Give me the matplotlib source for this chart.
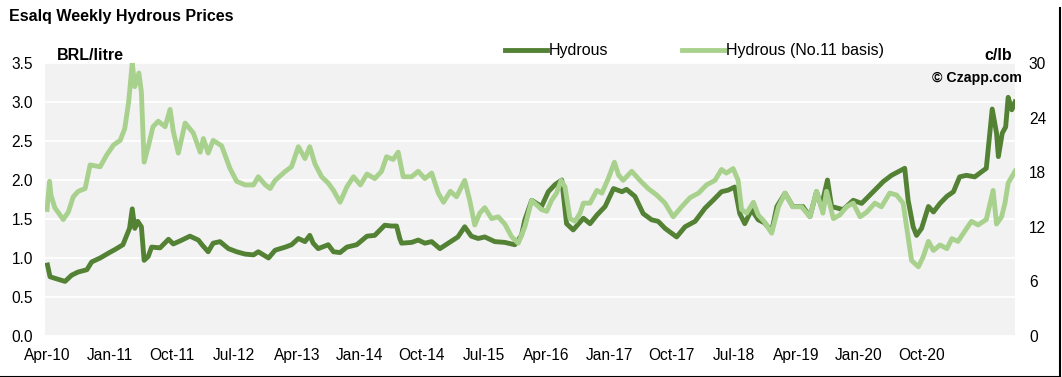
import matplotlib.pyplot as plt
import matplotlib.dates as mdates
from matplotlib.lines import Line2D
import pandas as pd

DARK = '#548235'; LIGHT = '#A9D18E'; BG = '#F2F2F2'; TXT = '#000000'
FONT = 'Liberation Sans'

# Esalq hydrous, BRL/litre (left axis)
hydrous_dates = [
    '2010-04-03', '2010-04-14', '2010-05-05', '2010-06-19', '2010-07-18', '2010-08-15',
    '2010-09-23', '2010-10-14', '2010-11-20', '2010-12-25', '2011-01-25', '2011-02-28',
    '2011-03-29', '2011-04-10', '2011-04-21', '2011-05-04', '2011-05-20', '2011-06-01',
    '2011-06-19', '2011-07-04', '2011-08-10', '2011-09-16', '2011-10-07', '2011-11-14',
    '2011-12-19', '2012-01-25', '2012-02-10', '2012-03-08', '2012-03-30', '2012-04-29',
    '2012-06-05', '2012-07-11', '2012-08-17', '2012-09-23', '2012-10-14', '2012-11-28',
    '2012-12-27', '2013-02-10', '2013-03-09', '2013-04-08', '2013-05-07', '2013-05-28',
    '2013-06-12', '2013-07-04', '2013-08-17', '2013-09-09', '2013-10-08', '2013-11-07',
    '2013-12-20', '2014-02-03', '2014-03-09', '2014-04-22', '2014-05-21', '2014-06-13',
    '2014-06-27', '2014-07-05', '2014-08-18', '2014-09-16', '2014-10-15', '2014-11-14',
    '2014-12-20', '2015-01-26', '2015-03-09', '2015-04-08', '2015-05-07', '2015-06-06',
    '2015-07-05', '2015-08-18', '2015-10-01', '2015-11-14', '2015-12-13', '2015-12-28',
    '2016-01-27', '2016-03-10', '2016-04-09', '2016-05-08', '2016-06-07', '2016-06-28',
    '2016-07-27', '2016-09-10', '2016-10-09', '2016-11-08', '2016-12-14', '2017-01-20',
    '2017-02-26', '2017-03-18', '2017-04-24', '2017-05-30', '2017-07-06', '2017-08-04',
    '2017-09-03', '2017-10-24', '2017-11-30', '2018-01-13', '2018-02-26', '2018-04-02',
    '2018-05-09', '2018-06-07', '2018-07-06', '2018-07-28', '2018-08-19', '2018-09-18',
    '2018-10-17', '2018-11-14', '2018-12-15', '2019-01-07', '2019-02-12', '2019-03-18',
    '2019-05-01', '2019-06-01', '2019-06-30', '2019-07-21', '2019-08-17', '2019-09-04',
    '2019-10-25', '2019-12-08', '2020-01-14', '2020-02-27', '2020-04-18', '2020-05-24',
    '2020-07-21', '2020-08-05', '2020-08-27', '2020-09-11', '2020-10-03', '2020-11-02',
    '2020-11-24', '2020-12-23', '2021-01-22', '2021-02-20', '2021-03-19', '2021-04-18',
    '2021-05-24', '2021-07-14', '2021-08-09', '2021-08-28', '2021-09-05', '2021-09-22',
    '2021-10-07', '2021-10-18', '2021-11-03', '2021-11-17']
hydrous_brl = [
    0.91, 0.76, 0.74, 0.70, 0.78, 0.82,
    0.85, 0.95, 1.00, 1.06, 1.11, 1.17,
    1.38, 1.63, 1.38, 1.47, 1.40, 0.97,
    1.02, 1.14, 1.13, 1.24, 1.18, 1.23,
    1.28, 1.23, 1.17, 1.08, 1.19, 1.21,
    1.12, 1.08, 1.05, 1.04, 1.08, 1.00,
    1.10, 1.14, 1.17, 1.25, 1.21, 1.29,
    1.19, 1.12, 1.17, 1.08, 1.07, 1.14,
    1.17, 1.28, 1.29, 1.42, 1.41, 1.41,
    1.25, 1.19, 1.20, 1.23, 1.19, 1.21,
    1.12, 1.19, 1.27, 1.40, 1.28, 1.25,
    1.27, 1.21, 1.20, 1.17, 1.29, 1.49,
    1.74, 1.66, 1.85, 1.94, 2.00, 1.44,
    1.36, 1.51, 1.44, 1.55, 1.66, 1.89,
    1.85, 1.88, 1.79, 1.57, 1.49, 1.47,
    1.38, 1.27, 1.40, 1.47, 1.64, 1.74,
    1.85, 1.87, 1.91, 1.57, 1.44, 1.62,
    1.49, 1.45, 1.34, 1.66, 1.83, 1.66,
    1.66, 1.53, 1.85, 1.66, 2.00, 1.66,
    1.62, 1.74, 1.70, 1.83, 1.98, 2.06,
    2.15, 1.74, 1.40, 1.29, 1.38, 1.66,
    1.59, 1.70, 1.79, 1.85, 2.04, 2.06,
    2.04, 2.15, 2.91, 2.60, 2.30, 2.60,
    2.68, 3.06, 2.90, 3.00]

# hydrous on No.11 basis, c/lb (right axis)
n11_dates = [
    '2010-04-01', '2010-04-12', '2010-04-18', '2010-05-05', '2010-06-11', '2010-07-03',
    '2010-07-25', '2010-08-16', '2010-09-15', '2010-10-07', '2010-11-20', '2010-12-19',
    '2011-01-18', '2011-02-16', '2011-03-08', '2011-03-25', '2011-04-10', '2011-04-21',
    '2011-05-09', '2011-05-20', '2011-06-01', '2011-06-19', '2011-07-10', '2011-08-02',
    '2011-09-01', '2011-09-23', '2011-10-07', '2011-10-29', '2011-11-28', '2012-01-03',
    '2012-02-02', '2012-02-16', '2012-03-08', '2012-03-30', '2012-05-06', '2012-06-12',
    '2012-07-11', '2012-08-17', '2012-09-23', '2012-10-14', '2012-11-14', '2012-12-05',
    '2012-12-27', '2013-02-10', '2013-03-09', '2013-04-08', '2013-05-07', '2013-05-28',
    '2013-06-20', '2013-07-19', '2013-08-17', '2013-09-09', '2013-10-08', '2013-11-07',
    '2013-12-06', '2014-01-05', '2014-02-03', '2014-03-09', '2014-04-08', '2014-04-30',
    '2014-05-29', '2014-06-20', '2014-07-12', '2014-08-18', '2014-09-16', '2014-10-15',
    '2014-11-14', '2014-12-13', '2015-01-05', '2015-02-04', '2015-03-03', '2015-04-08',
    '2015-04-30', '2015-05-22', '2015-06-13', '2015-07-05', '2015-08-04', '2015-09-02',
    '2015-10-01', '2015-10-31', '2015-11-29', '2015-12-28', '2016-01-27', '2016-03-10',
    '2016-04-02', '2016-04-23', '2016-05-15', '2016-06-04', '2016-06-21', '2016-07-13',
    '2016-08-04', '2016-08-26', '2016-09-10', '2016-10-09', '2016-11-08', '2016-11-30',
    '2016-12-28', '2017-01-24', '2017-02-11', '2017-03-03', '2017-04-10', '2017-05-16',
    '2017-06-21', '2017-07-28', '2017-09-03', '2017-10-09', '2017-11-15', '2017-12-22',
    '2018-01-28', '2018-03-04', '2018-04-10', '2018-05-09', '2018-05-30', '2018-06-29',
    '2018-07-21', '2018-08-05', '2018-08-27', '2018-09-26', '2018-10-17', '2018-11-12',
    '2018-12-15', '2019-01-14', '2019-02-12', '2019-03-18', '2019-04-25', '2019-06-01',
    '2019-06-30', '2019-07-28', '2019-08-13', '2019-09-12', '2019-10-10', '2019-11-09',
    '2019-12-08', '2020-01-07', '2020-02-05', '2020-03-12', '2020-04-10', '2020-05-16',
    '2020-06-15', '2020-07-14', '2020-08-05', '2020-08-20', '2020-09-19', '2020-10-10',
    '2020-11-02', '2020-11-24', '2020-12-23', '2021-01-22', '2021-02-13', '2021-03-12',
    '2021-04-10', '2021-05-10', '2021-06-08', '2021-07-14', '2021-08-13', '2021-08-28',
    '2021-09-19', '2021-10-04', '2021-10-18', '2021-11-03', '2021-11-17']
n11_clb = [
    13.9, 17.0, 15.5, 14.1, 12.8, 13.6,
    15.3, 15.9, 16.2, 18.8, 18.6, 19.9,
    21.0, 21.5, 22.8, 25.7, 30.0, 27.4,
    28.9, 26.8, 19.1, 20.8, 23.0, 23.6,
    23.0, 24.9, 22.5, 20.1, 23.4, 22.3,
    20.2, 21.7, 20.1, 21.5, 20.9, 18.4,
    17.0, 16.6, 16.6, 17.5, 16.6, 16.2,
    17.1, 18.1, 18.6, 20.8, 19.5, 20.8,
    18.9, 17.5, 16.8, 16.0, 14.7, 16.4,
    17.5, 16.6, 17.8, 17.3, 18.1, 19.7,
    19.4, 20.2, 17.5, 17.5, 18.1, 17.3,
    17.9, 15.7, 14.7, 15.9, 15.3, 17.1,
    14.9, 12.2, 13.5, 14.1, 12.9, 13.1,
    12.3, 10.9, 10.2, 12.0, 14.9, 13.9,
    13.7, 14.9, 15.7, 17.1, 16.4, 12.9,
    12.6, 13.5, 14.6, 14.6, 16.0, 15.7,
    17.3, 19.1, 17.7, 17.1, 18.1, 17.1,
    16.2, 15.5, 14.6, 13.1, 14.2, 15.2,
    15.7, 16.6, 17.1, 18.3, 17.9, 18.4,
    17.1, 13.9, 13.5, 14.7, 13.3, 12.6,
    11.3, 14.2, 15.7, 14.2, 14.2, 13.1,
    15.9, 13.5, 15.9, 12.9, 13.3, 14.2,
    14.6, 13.1, 13.6, 14.6, 14.2, 15.7,
    15.5, 14.6, 10.9, 8.3, 7.6, 8.7,
    10.4, 9.4, 10.0, 9.6, 10.7, 10.4,
    11.5, 12.6, 12.2, 12.8, 16.0, 12.3,
    13.1, 14.6, 16.8, 17.5, 18.1]

left_ticks = [0.0, 0.5, 1.0, 1.5, 2.0, 2.5, 3.0, 3.5]
right_ticks = [0, 6, 12, 18, 24, 30]
x_ticks = pd.date_range('2010-04-01', '2020-10-01', freq='9MS')


def hydrous_chart():
    W, H = 1062, 377
    fig = plt.figure(figsize=(W / 100, H / 100), dpi=100, facecolor='white')
    ax = fig.add_axes([45 / W, 1 - 336 / H, 970 / W, 273 / H])
    ax.set_facecolor(BG)
    for s in ax.spines.values():
        s.set_visible(False)

    ax.plot(pd.to_datetime(hydrous_dates), hydrous_brl, color=DARK, lw=3.5,
            solid_joinstyle='round', zorder=3)
    ax.set_ylim(0, 3.5)
    ax.set_yticks(left_ticks)
    ax.set_yticklabels([f'{t:.1f}' for t in left_ticks], fontfamily=FONT, fontsize=11.2)
    ax.yaxis.grid(True, color='white', lw=1.3)
    ax.set_axisbelow(True)
    ax.tick_params(length=0, pad=8.5)

    ax.set_xlim(pd.Timestamp('2010-03-23'), pd.Timestamp('2021-11-17'))
    ax.set_xticks(x_ticks)
    ax.xaxis.set_major_formatter(mdates.DateFormatter('%b-%y'))
    for lb in ax.get_xticklabels():
        lb.set_fontfamily(FONT); lb.set_fontsize(11.2)

    ax2 = ax.twinx()
    for s in ax2.spines.values():
        s.set_visible(False)
    ax2.plot(pd.to_datetime(n11_dates), n11_clb, color=LIGHT, lw=3.5,
             solid_joinstyle='round', zorder=3)
    ax2.set_ylim(0, 30)
    ax2.set_yticks(right_ticks)
    ax2.set_yticklabels([str(t) for t in right_ticks], fontfamily=FONT, fontsize=11.2)
    ax2.tick_params(length=0, pad=10)

    # texts
    fig.text(9 / W, 1 - 17 / H, 'Esalq Weekly Hydrous Prices', fontfamily=FONT,
             fontsize=11.5, fontweight='bold', va='center', ha='left')
    fig.text(57 / W, 1 - 56 / H, 'BRL/litre', fontfamily=FONT, fontsize=11.5,
             fontweight='bold', va='center', ha='left')
    fig.text(1012 / W, 1 - 55 / H, 'c/lb', fontfamily=FONT, fontsize=11.5,
             fontweight='bold', va='center', ha='right')
    fig.text(1022 / W, 1 - 78 / H, '\u00a9 Czapp.com', fontfamily=FONT, fontsize=10.2,
             fontweight='bold', va='center', ha='right')

    # legend
    ly = 1 - 50 / H
    for x0, col, lbl in [(505, DARK, 'Hydrous'), (682, LIGHT, 'Hydrous (No.11 basis)')]:
        fig.add_artist(Line2D([x0 / W, (x0 + 42) / W], [ly, ly], color=col, lw=3.5,
                              transform=fig.transFigure))
        fig.text((x0 + 44) / W, ly, lbl, fontfamily=FONT, fontsize=11.5,
                 va='center', ha='left')

    # outer frame edges
    fig.add_artist(Line2D([0, 1059.5 / W], [0.5 / H, 0.5 / H], color='black', lw=1.5,
                          transform=fig.transFigure))
    fig.add_artist(Line2D([1059.5 / W, 1059.5 / W], [0.5 / H, 1 - 8 / H], color='black',
                          lw=1.5, transform=fig.transFigure))

    plt.savefig('out.png', dpi=100, facecolor='white')
    plt.close()


if __name__ == '__main__':
    hydrous_chart()
